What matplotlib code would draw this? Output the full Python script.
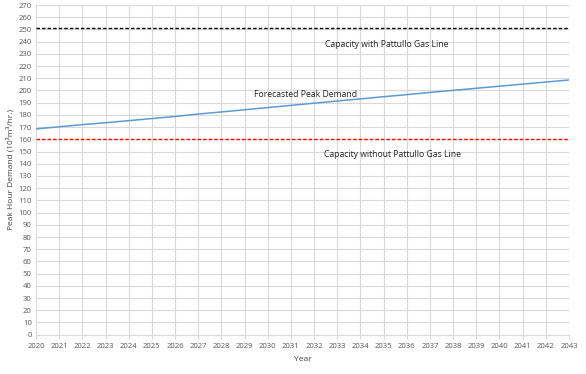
import matplotlib
matplotlib.use("Agg")
import matplotlib.pyplot as plt
import numpy as np

years = list(range(2020, 2044))
demand = [168.5, 170.3, 172.0, 173.6, 175.3, 177.0, 178.7, 180.7, 182.4, 184.2,
          186.0, 187.8, 189.6, 191.4, 193.1, 194.9, 196.6, 198.4, 200.1, 201.8,
          203.5, 205.2, 206.9, 208.6]
cap_with = 251
cap_without = 160
labels = ["Capacity with Pattullo Gas Line", "Forecasted Peak Demand",
          "Capacity without Pattullo Gas Line"]

plt.rcParams['font.family'] = ['Open Sans', 'DejaVu Sans']
fig = plt.figure(figsize=(5.86, 3.74), dpi=100)
ax = fig.add_axes([36/586, 1-334.7/374, (569-36)/586, 329.7/374])

ax.plot(years, demand, color='#5B9BD5', lw=1.1, zorder=3)
ax.axhline(cap_with, color='black', ls=(0, (2.5, 1.5)), lw=1.0, zorder=3)
ax.axhline(cap_without, color='#FF0000', ls=(0, (2.5, 1.5)), lw=1.0, zorder=3)

ax.set_xlim(2020, 2043)
ax.set_ylim(0, 270)
ax.set_xticks(years)
ax.set_yticks(np.arange(0, 271, 10))
ax.grid(True, color='#D9D9D9', lw=0.8)
ax.set_axisbelow(True)
for s in ['top', 'right', 'left']:
    ax.spines[s].set_visible(False)
ax.spines['bottom'].set_color('#D9D9D9')
ax.tick_params(axis='both', labelsize=5.6, colors='#595959', length=0, pad=3)
ax.tick_params(axis='x', length=3, color='#D9D9D9')

ax.set_xlabel('Year', fontsize=6, color='#404040', labelpad=4)
ax.set_ylabel('Peak Hour Demand (10³m³/hr.)', fontsize=6, color='#404040', labelpad=3)

ax.text(2035.15, 238, labels[0], fontsize=6.2, color='#222222', ha='center', va='center')
ax.text(2031.65, 197, labels[1], fontsize=6.2, color='#222222', ha='center', va='center')
ax.text(2035.4, 147.5, labels[2], fontsize=6.2, color='#222222', ha='center', va='center')

fig.savefig('out.png', dpi=100)
